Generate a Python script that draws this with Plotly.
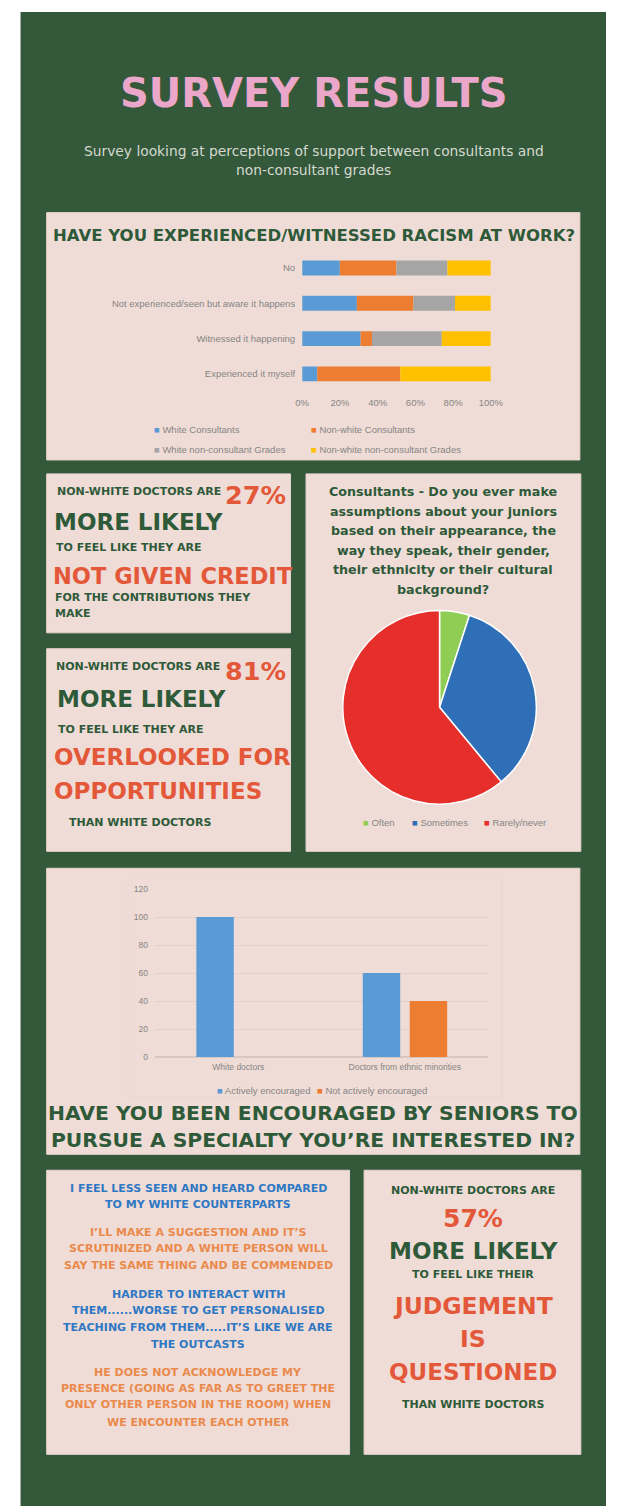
import numpy as np
import plotly.graph_objects as go

W, H = 619, 1511

# ---------------- data ----------------
racism_categories = ["Experienced it myself", "Witnessed it happening",
                     "Not experienced/seen but aware it happens", "No"]
racism_series = ["White Consultants", "Non-white Consultants",
                 "White non-consultant Grades", "Non-white non-consultant Grades"]
white_consultants = [8, 31, 29, 20]
nonwhite_consultants = [44, 6, 30, 30]
white_nonconsultant = [0, 37, 22, 27]
nonwhite_nonconsultant = [48, 26, 19, 23]
pct_ticks = [0, 20, 40, 60, 80, 100]
pct_tick_labels = ["0%", "20%", "40%", "60%", "80%", "100%"]

pie_labels = ["Often", "Sometimes", "Rarely/never"]
pie_values = [5, 34, 61]

enc_categories = ["White doctors", "Doctors from ethnic minorities"]
enc_series = ["Actively encouraged", "Not actively encouraged"]
actively_encouraged = [100, 60]
not_actively_encouraged = [0, 40]
count_ticks = [0, 20, 40, 60, 80, 100, 120]

# ---------------- style ----------------
GREEN_BG = "#33583a"
BOX = "#f0dcd6"
TXT_GREEN = "#2e5a39"
RED_OR = "#e4583a"
Q_BLUE = "#2f78c4"
Q_OR = "#e98a4c"
PINK = "#eba7c9"
GRAY_TXT = "#858585"
HEAD = "DejaVu Sans"
CHART_FONT = "Liberation Sans"
C4 = ["#5b9bd5", "#ed7d31", "#a5a5a5", "#ffc000"]
PIE_C = ["#8fcd55", "#2e6fb7", "#e62e2a"]


def px(x):
    return x / W


def py(y):
    return 1 - y / H


fig = go.Figure()
shapes = []
annotations = []


def rect(x0, y0, x1, y1, fill, line=None):
    shapes.append(dict(type="rect", xref="paper", yref="paper",
                       x0=px(x0), x1=px(x1), y0=py(y1), y1=py(y0),
                       fillcolor=fill, layer="below",
                       line=dict(width=1 if line else 0, color=line or fill)))


def txt(text, x, y, size, color, anchor="center", family=HEAD, bold=True):
    annotations.append(dict(text=f"<b>{text}</b>" if bold else text,
                            x=px(x), y=py(y), xref="paper", yref="paper",
                            xanchor=anchor, yanchor="middle", showarrow=False,
                            font=dict(family=family, size=size, color=color)))


def legend_item(name, color, x, y):
    annotations.append(dict(text=f"<span style='color:{color}'>■</span> {name}",
                            x=px(x), y=py(y), xref="paper", yref="paper",
                            xanchor="left", yanchor="middle", showarrow=False,
                            font=dict(family=CHART_FONT, size=9.5, color=GRAY_TXT)))


# background + boxes
rect(14, 7, 619, 1511, GREEN_BG)
rect(41, 209, 592, 458, BOX, "#e6d3cd")
rect(41, 472, 293, 632, BOX, "#e6d3cd")
rect(41, 648, 293, 852, BOX, "#e6d3cd")
rect(309, 472, 593, 852, BOX, "#e6d3cd")
rect(41, 869, 592, 1157, BOX, "#e6d3cd")
rect(41, 1173, 354, 1459, BOX, "#e6d3cd")
rect(369, 1173, 593, 1459, BOX, "#e6d3cd")
# faint chart area in bar box
rect(125, 878, 511, 1100, BOX, "#e9d8d2")

# header
txt("SURVEY RESULTS", 317, 89, 40, PINK)
txt("Survey looking at perceptions of support between consultants and", 317, 147, 13.8,
    "#d6d8cf", bold=False)
txt("non-consultant grades", 317, 166, 13.8, "#d6d8cf", bold=False)

# ---------------- stacked bar chart ----------------
txt("HAVE YOU EXPERIENCED/WITNESSED RACISM AT WORK?", 317, 232, 16.5, TXT_GREEN)
base = np.zeros(len(racism_categories))
for name, vals, c in zip(racism_series,
                         [white_consultants, nonwhite_consultants,
                          white_nonconsultant, nonwhite_nonconsultant], C4):
    vals = np.array(vals, dtype=float)
    fig.add_trace(go.Bar(y=racism_categories, x=vals, base=base.copy(), orientation="h",
                         name=name, marker=dict(color=c, line=dict(width=0)),
                         width=0.42, showlegend=False, xaxis="x", yaxis="y"))
    base += vals
legend_item(racism_series[0], C4[0], 150, 427)
legend_item(racism_series[1], C4[1], 312, 427)
legend_item(racism_series[2], C4[2], 150, 447)
legend_item(racism_series[3], C4[3], 312, 447)

# ---------------- text boxes left ----------------
txt("NON-WHITE DOCTORS ARE", 50, 490, 11, TXT_GREEN, "left")
txt("27%", 290, 493, 25.5, RED_OR, "right")
txt("MORE LIKELY", 46, 520, 23, TXT_GREEN, "left")
txt("TO FEEL LIKE THEY ARE", 49, 546, 11, TXT_GREEN, "left")
txt("NOT GIVEN CREDIT", 45, 575, 22.5, RED_OR, "left")
txt("FOR THE CONTRIBUTIONS THEY", 48, 596, 11, TXT_GREEN, "left")
txt("MAKE", 48, 613, 11, TXT_GREEN, "left")

txt("NON-WHITE DOCTORS ARE", 49, 666, 11, TXT_GREEN, "left")
txt("81%", 290, 670, 25.5, RED_OR, "right")
txt("MORE LIKELY", 50, 699, 23, TXT_GREEN, "left")
txt("TO FEEL LIKE THEY ARE", 51, 729, 11, TXT_GREEN, "left")
txt("OVERLOOKED FOR", 46, 757, 23, RED_OR, "left")
txt("OPPORTUNITIES", 46, 791, 23, RED_OR, "left")
txt("THAN WHITE DOCTORS", 62, 823, 11, TXT_GREEN, "left")

# ---------------- pie ----------------
pie_title = ["Consultants - Do you ever make", "assumptions about your juniors",
             "based on their appearance, the", "way they speak, their gender,",
             "their ethnicity or their cultural", "background?"]
for i, line in enumerate(pie_title):
    txt(line, 451, 490 + i * 19.6, 12.7, TXT_GREEN)
fig.add_trace(go.Pie(labels=pie_labels, values=pie_values, sort=False,
                     direction="clockwise", rotation=0,
                     marker=dict(colors=PIE_C, line=dict(color="white", width=1.5)),
                     textinfo="none", showlegend=False,
                     domain=dict(x=[px(347), px(547)], y=[py(807), py(607)])))
legend_item(pie_labels[0], PIE_C[0], 366, 823)
legend_item(pie_labels[1], PIE_C[1], 416, 823)
legend_item(pie_labels[2], PIE_C[2], 491, 823)

# ---------------- grouped bar chart ----------------
fig.add_trace(go.Bar(x=enc_categories, y=actively_encouraged, name=enc_series[0],
                     marker=dict(color="#5b9bd5", line=dict(width=0)),
                     width=0.225, offset=-0.252, showlegend=False,
                     xaxis="x2", yaxis="y2"))
fig.add_trace(go.Bar(x=enc_categories, y=not_actively_encouraged, name=enc_series[1],
                     marker=dict(color="#ed7d31", line=dict(width=0)),
                     width=0.225, offset=0.03, showlegend=False,
                     xaxis="x2", yaxis="y2"))
legend_item(enc_series[0], "#5b9bd5", 215, 1093)
legend_item(enc_series[1], "#ed7d31", 318, 1093)
txt("HAVE YOU BEEN ENCOURAGED BY SENIORS TO", 316, 1115, 20.3, TXT_GREEN)
txt("PURSUE A SPECIALTY YOU’RE INTERESTED IN?", 316, 1143, 20.3, TXT_GREEN)

# ---------------- quotes ----------------
quotes = [
    ("I FEEL LESS SEEN AND HEARD COMPARED", Q_BLUE, 1191),
    ("TO MY WHITE COUNTERPARTS", Q_BLUE, 1207),
    ("I’LL MAKE A SUGGESTION AND IT’S", Q_OR, 1236),
    ("SCRUTINIZED AND A WHITE PERSON WILL", Q_OR, 1252),
    ("SAY THE SAME THING AND BE COMMENDED", Q_OR, 1269),
    ("HARDER TO INTERACT WITH", Q_BLUE, 1298),
    ("THEM......WORSE TO GET PERSONALISED", Q_BLUE, 1314),
    ("TEACHING FROM THEM.....IT’S LIKE WE ARE", Q_BLUE, 1331),
    ("THE OUTCASTS", Q_BLUE, 1348),
    ("HE DOES NOT ACKNOWLEDGE MY", Q_OR, 1377),
    ("PRESENCE (GOING AS FAR AS TO GREET THE", Q_OR, 1393),
    ("ONLY OTHER PERSON IN THE ROOM) WHEN", Q_OR, 1409),
    ("WE ENCOUNTER EACH OTHER", Q_OR, 1427),
]
for line, col, yy in quotes:
    txt(line, 197.5, yy, 11, col)

txt("NON-WHITE DOCTORS ARE", 482, 1193, 11, TXT_GREEN)
txt("57%", 482, 1222, 25, RED_OR)
txt("MORE LIKELY", 482, 1254, 23, TXT_GREEN)
txt("TO FEEL LIKE THEIR", 482, 1278, 11, TXT_GREEN)
txt("JUDGEMENT", 482, 1310, 23.5, RED_OR)
txt("IS", 482, 1343, 23.5, RED_OR)
txt("QUESTIONED", 482, 1376, 23, RED_OR)
txt("THAN WHITE DOCTORS", 482, 1409, 11, TXT_GREEN)

axis_font = dict(family=CHART_FONT, size=9.5, color=GRAY_TXT)
fig.update_layout(
    width=W, height=H, margin=dict(l=0, r=0, t=0, b=0),
    paper_bgcolor="white", plot_bgcolor="rgba(0,0,0,0)",
    barmode="overlay", shapes=shapes, annotations=annotations,
    xaxis=dict(domain=[px(305), px(500)], range=[0, 100], tickmode="array",
               tickvals=pct_ticks, ticktext=pct_tick_labels,
               showgrid=False, zeroline=False, showline=False,
               tickfont=axis_font, anchor="y", fixedrange=True, ticklabelstandoff=4),
    yaxis=dict(domain=[py(389), py(247)], type="category", range=[-0.5, 3.5],
               categoryorder="array", categoryarray=racism_categories,
               showgrid=False, zeroline=False, showline=False, tickfont=axis_font,
               anchor="x", fixedrange=True, ticklabelstandoff=6),
    xaxis2=dict(domain=[px(153), px(497)], type="category", range=[-0.5, 1.5],
                showgrid=False, zeroline=False, showline=False,
                tickfont=dict(family=CHART_FONT, size=8.5, color=GRAY_TXT),
                anchor="y2", fixedrange=True, ticklabelstandoff=4),
    yaxis2=dict(domain=[py(1059), py(890)], range=[0, 120], tickvals=count_ticks,
                showgrid=True, gridcolor="#e2d1cb", gridwidth=1, zeroline=True,
                zerolinecolor="#d9c8c2", showline=False,
                tickfont=dict(family=CHART_FONT, size=8.5, color=GRAY_TXT),
                anchor="x2", fixedrange=True, ticklabelstandoff=6),
)

fig.write_html("out.html",
               post_script="document.body.style.margin='0';"
                           "document.body.style.overflow='hidden';")
